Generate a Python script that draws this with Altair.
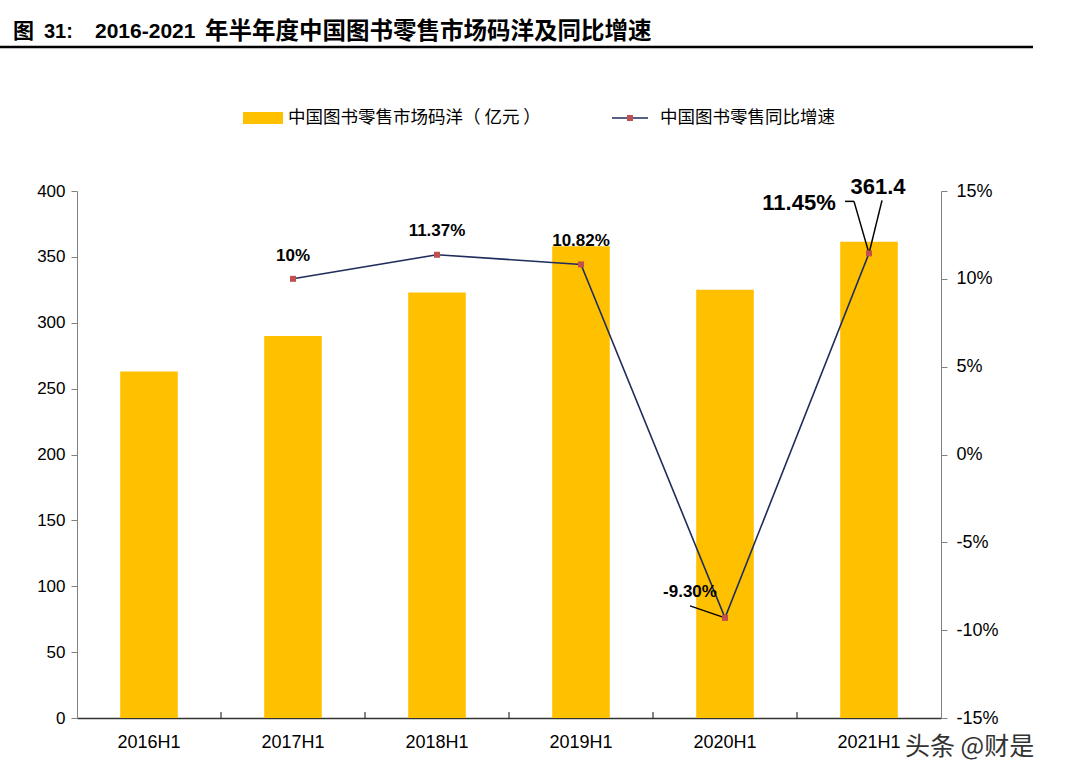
import altair as alt
import pandas as pd

categories = ["2016H1", "2017H1", "2018H1", "2019H1", "2020H1", "2021H1"]
market = [263, 290, 323, 358, 325, 361.4]
growth = [None, 10.0, 11.37, 10.82, -9.30, 11.45]
growth_labels = ["", "10%", "11.37%", "10.82%", "-9.30%", "11.45%"]
bar_labels = ["", "", "", "", "", "361.4"]

title_fig = "图"
title_num = "31:"
title_years = "2016-2021"
title_rest = "年半年度中国图书零售市场码洋及同比增速"
bar_name = "中国图书零售市场码洋（ 亿元 ）"
line_name = "中国图书零售同比增速"
watermark = "头条 @财是"

df = pd.DataFrame({"cat": categories, "market": market, "growth": growth,
                   "glabel": growth_labels, "blabel": bar_labels})
one = pd.DataFrame({"k": [0]})

W, H = 864, 527
LAT = "Liberation Sans"
CJK = "Noto Sans CJK SC"
AXC = "#808080"

xenc = alt.X("cat:N", sort=categories, title=None,
             scale=alt.Scale(paddingInner=0, paddingOuter=0),
             axis=alt.Axis(labelAngle=0, labelFont=LAT, labelFontSize=18, labelColor="#000",
                           labelPadding=15, ticks=False,
                           domainColor="#333", domainWidth=1.5))

bars = alt.Chart(df).mark_bar(color="#FFC000", width=alt.RelativeBandSize(0.4)).encode(
    x=xenc,
    y=alt.Y("market:Q", title=None,
            scale=alt.Scale(domain=[0, 400], nice=False, zero=True),
            axis=alt.Axis(values=list(range(0, 401, 50)), grid=False, labelFont=LAT,
                          labelFontSize=17, labelColor="#000", tickSize=6, tickColor=AXC,
                          domainColor=AXC, labelPadding=6)))

xticks = alt.Chart(df).transform_filter("datum.cat != '2016H1'").mark_rule(
    color="#333", strokeWidth=1.2).encode(
    x=alt.X("cat:N", sort=categories, bandPosition=0),
    y=alt.value(H - 6), y2=alt.value(H))

bar_text = alt.Chart(df).transform_filter("datum.blabel != ''").mark_text(
    font=LAT, fontSize=22, fontWeight="bold", dx=9, dy=-55, color="#000").encode(
    x=alt.X("cat:N", sort=categories), y=alt.Y("market:Q"), text="blabel:N")

bar_group = alt.layer(bars, xticks, bar_text)

gy = alt.Y("growth:Q", title=None,
           scale=alt.Scale(domain=[-15, 15], nice=False, zero=False),
           axis=alt.Axis(orient="right", values=list(range(-15, 16, 5)), grid=False,
                         labelExpr="datum.value + '%'", labelFont=LAT, labelFontSize=18,
                         labelColor="#000", tickSize=6, tickColor=AXC, domainColor=AXC,
                         labelPadding=9))

gdf = alt.Chart(df).transform_filter("isValid(datum.growth)")
gx = alt.X("cat:N", sort=categories)

line = gdf.mark_line(color="#1F2D5C", strokeWidth=1.6).encode(x=gx, y=gy)
pts = gdf.mark_square(color="#C0504D", size=36, opacity=1).encode(x=gx, y=gy)

def lab(cat, dx, dy, size=17):
    return gdf.transform_filter(alt.datum.cat == cat).mark_text(
        font=LAT, fontSize=size, fontWeight="bold", dx=dx, dy=dy, color="#000").encode(
        x=gx, y=gy, text="glabel:N")

labels = [lab("2017H1", 0, -23), lab("2018H1", 0, -24), lab("2019H1", 0, -23),
          lab("2020H1", -35, -26), lab("2021H1", -70, -50, 22)]

def leader(cat, x1, y1, x2, y2):
    return gdf.transform_filter(alt.datum.cat == cat).mark_rule(
        color="#000", strokeWidth=1.5, xOffset=x1, yOffset=y1, x2Offset=x2, y2Offset=y2).encode(
        x=gx, y=gy, x2=alt.X2("cat:N"), y2=alt.Y2("growth:Q"))

leaders = [leader("2020H1", 0, 0, -35, -12),
           leader("2021H1", 0, 0, -15, -52),
           leader("2021H1", -15, -52, -24, -52),
           leader("2021H1", 0, 0, 13, -53)]

growth_group = alt.layer(line, *leaders, pts, *labels)

# title, legend, watermark (layout decoration)
base = alt.Chart(one)
def deco_text(txt, x, y, font, size, weight="normal", color="#000"):
    return base.mark_text(font=font, fontSize=size, fontWeight=weight, align="left",
                          baseline="middle", color=color).encode(
        x=alt.value(x), y=alt.value(y), text=alt.value(txt))

t1 = deco_text(title_fig, -64, -159, CJK, 21, "bold")
t2 = deco_text(title_num, -33, -159, LAT, 20, "bold")
t3 = deco_text(title_years, 18, -159, LAT, 21, "bold")
t4 = deco_text(title_rest, 128, -159, CJK, 23.5, "bold")
uline = base.mark_rule(color="#000", strokeWidth=2.5).encode(
    x=alt.value(-77), x2=alt.value(956), y=alt.value(-144))
leg_rect = base.mark_rect(color="#FFC000").encode(
    x=alt.value(166), x2=alt.value(206), y=alt.value(-79), y2=alt.value(-67))
leg_t1 = deco_text(bar_name, 211, -73, CJK, 17.5)
leg_line = base.mark_rule(color="#1F2D5C", strokeWidth=1.6).encode(
    x=alt.value(535), x2=alt.value(571), y=alt.value(-73))
leg_pt = base.mark_square(color="#C0504D", size=36, opacity=1).encode(
    x=alt.value(553), y=alt.value(-73))
leg_t2 = deco_text(line_name, 583, -73, CJK, 17.5)
wm = deco_text(watermark, 828, 556, CJK, 25, "normal", "#333")

deco = alt.layer(t1, t2, t3, t4, uline, leg_rect, leg_t1, leg_line, leg_pt, leg_t2, wm)

chart = alt.layer(bar_group, growth_group, deco).resolve_scale(y="independent").properties(
    width=W, height=H,
    autosize=alt.AutoSizeParams(type="none"),
    padding={"left": 77, "top": 191, "right": 124, "bottom": 61},
    background="white"
).configure_view(stroke=None)

chart.save("out.html", embed_options={"renderer": "svg", "actions": False})
